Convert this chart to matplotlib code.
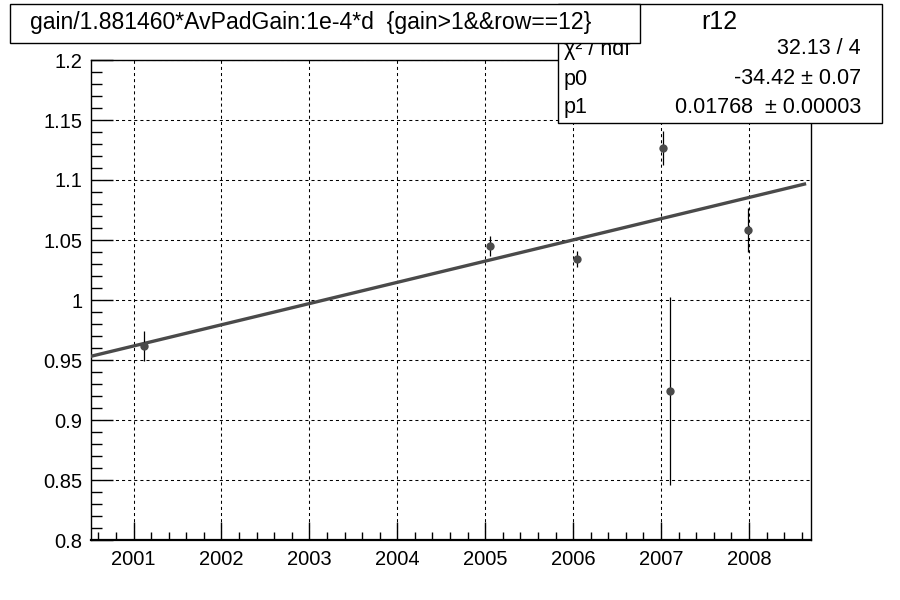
import matplotlib
matplotlib.use("Agg")
import matplotlib.pyplot as plt
from matplotlib.patches import Rectangle
from matplotlib.ticker import MultipleLocator
import numpy as np

plt.rcParams['font.family'] = ['Liberation Sans', 'DejaVu Sans']
plt.rcParams['lines.scale_dashes'] = False

# ---- data ----
years = [2001.12, 2005.05, 2006.04, 2007.02, 2007.10, 2007.99]
gain = [0.9617, 1.0453, 1.0342, 1.1269, 0.9244, 1.0583]
gain_err = [0.0125, 0.0083, 0.0070, 0.0140, 0.0785, 0.0185]

fit_p0 = -34.416
fit_p1 = 0.01768
fit_range = [2000.51, 2008.65]

title_text = "gain/1.881460*AvPadGain:1e-4*d  {gain>1&&row==12}"
stats_name = "r12"
stats_labels = ["\u03c7\u00b2 / ndf", "p0", "p1"]
stats_values = ["32.13 / 4", "-34.42 \u00b1 0.07", "0.01768  \u00b1 0.00003"]

xlim = (2000.51, 2008.70)
ylim = (0.8, 1.2)
xticks = [2001, 2002, 2003, 2004, 2005, 2006, 2007, 2008]
yticks = [0.8, 0.85, 0.9, 0.95, 1.0, 1.05, 1.1, 1.15, 1.2]
yticklabels = ["0.8", "0.85", "0.9", "0.95", "1", "1.05", "1.1", "1.15", "1.2"]

W, H = 900, 600
fig = plt.figure(figsize=(9, 6), dpi=100)
ax = fig.add_axes([90.5 / W, 1 - 540 / H, 720 / W, 480 / H])

ax.set_xlim(*xlim)
ax.set_ylim(*ylim)
ax.set_xticks(xticks)
ax.set_xticklabels([str(x) for x in xticks])
ax.set_yticks(yticks)
ax.set_yticklabels(yticklabels)
ax.xaxis.set_minor_locator(MultipleLocator(0.2))
ax.yaxis.set_minor_locator(MultipleLocator(0.01))
ax.tick_params(which='both', direction='in', top=False, right=False,
               labelsize=14.5, pad=6, colors='black')
ax.tick_params(axis='x', which='major', length=13, width=1)
ax.tick_params(axis='x', which='minor', length=6, width=1)
ax.tick_params(axis='y', which='major', length=16, width=1)
ax.tick_params(axis='y', which='minor', length=8, width=1)
ax.tick_params(axis='x', pad=7)

ax.grid(True, which='major', color='black', linewidth=0.75,
        linestyle=(0, (2.2, 2.2)), zorder=0)
ax.set_axisbelow(True)
for s in ax.spines.values():
    s.set_linewidth(1.0)
ax.spines['bottom'].set_linewidth(1.6)

# fit line
fx = np.array(fit_range)
ax.plot(fx, fit_p0 + fit_p1 * fx, color='#4a4a4a', linewidth=2.4, zorder=3,
        solid_capstyle='butt')

# data points
ax.errorbar(years, gain, yerr=gain_err, fmt='none', ecolor='black',
            elinewidth=0.9, capsize=0, zorder=4)
ax.plot(years, gain, 'o', color='#4a4a4a', markersize=6, zorder=5,
        markeredgewidth=0)

def fx_(px):
    return px / W

def fy_(py):
    return 1 - py / H

# stats box
sb = Rectangle((fx_(558), fy_(123)), (882 - 558) / W, (123 - 4) / H,
               transform=fig.transFigure, facecolor='white', edgecolor='black',
               linewidth=1.0, zorder=10)
fig.add_artist(sb)
fig.text(fx_(719), fy_(22), stats_name, ha='center', va='center',
         fontsize=18, zorder=11)
row_y = [49, 79, 108]
for lab, val, ry in zip(stats_labels, stats_values, row_y):
    fig.text(fx_(564), fy_(ry), lab, ha='left', va='center', fontsize=15.5,
             zorder=11)
    fig.text(fx_(861), fy_(ry), val, ha='right', va='center', fontsize=15.5,
             zorder=11)

# title box (drawn on top)
tb = Rectangle((fx_(9.5), fy_(43)), (640 - 9.5) / W, (43 - 3.5) / H,
               transform=fig.transFigure, facecolor='white', edgecolor='black',
               linewidth=1.0, zorder=20)
fig.add_artist(tb)
fig.text(fx_(30), fy_(23), title_text, ha='left', va='center', fontsize=16.6,
         zorder=21)

fig.savefig("out.png", dpi=100)
